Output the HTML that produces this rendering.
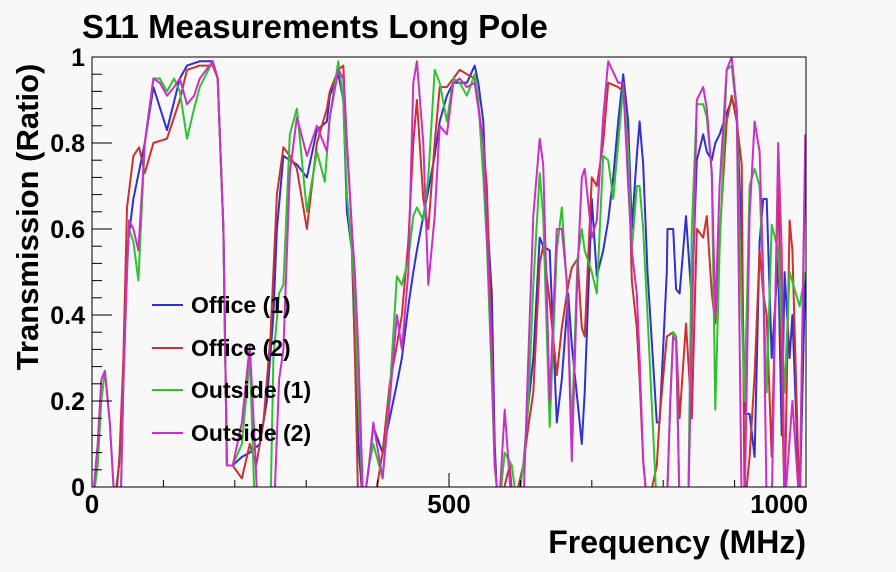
<!DOCTYPE html>
<html><head><meta charset="utf-8">
<style>
html,body{margin:0;padding:0;background:#f8f8f8;}
svg{display:block;font-family:"Liberation Sans",Arial,sans-serif;font-weight:bold;}
</style></head>
<body>
<svg id="chart" width="896" height="572" viewBox="0 0 896 572">
<rect x="0" y="0" width="896" height="572" fill="#f8f8f8"/>
<text x="82" y="38" font-size="33" fill="#000">S11 Measurements Long Pole</text>
<text x="806" y="553" font-size="32" text-anchor="end" fill="#000">Frequency (MHz)</text>
<text transform="translate(38,217) rotate(-90)" font-size="31" text-anchor="middle" fill="#000">Transmission (Ratio)</text>
<defs><clipPath id="plotclip"><rect x="92" y="57" width="714" height="430"/></clipPath></defs>
<g id="series" clip-path="url(#plotclip)"></g>
<g id="axes"></g>
<g id="legend"></g>
</svg>
<script>
const xTicks = [0, 500, 1000];
const xTickLabels = ["0", "500", "1000"];
const yTicks = [0, 0.2, 0.4, 0.6, 0.8, 1];
const yTickLabels = ["0", "0.2", "0.4", "0.6", "0.8", "1"];
const seriesNames = ["Office (1)", "Office (2)", "Outside (1)", "Outside (2)"];

const office1F = [0,25,35,40,44,49,58,74,86,105,123,133,151,169,176,184,189,197,210,221,235,245,254,259,268,277,287,301,315,329,333,345,352,357,364,368,373,380,388,394,407,417,427,434,443,450,455,464,471,480,487,497,506,515,525,536,541,548,553,560,564,568,590,604,611,618,627,632,641,651,658,667,672,680,686,690,700,707,716,723,730,737,744,751,756,763,767,772,778,791,795,805,806,814,818,823,832,840,847,856,861,868,873,879,889,896,903,910,914,921,928,935,940,945,952,961,966,970,977,981,991,999];
const office1V = [-0.05,-0.05,0,0.1,0.25,0.55,0.67,0.8,0.93,0.83,0.95,0.98,0.99,0.99,0.95,0.6,0.05,0.05,0.07,0.08,0.1,0.2,0.4,0.6,0.77,0.76,0.75,0.72,0.83,0.85,0.91,0.96,0.9,0.64,0.55,0.32,0.1,-0.05,0.05,0.14,0.08,0.16,0.24,0.3,0.42,0.5,0.55,0.63,0.69,0.77,0.85,0.91,0.94,0.94,0.94,0.98,0.94,0.85,0.64,0.45,0.1,-0.05,-0.05,0.05,0.19,0.3,0.58,0.56,0.55,0.15,0.25,0.45,0.33,0.2,0.1,0.22,0.67,0.49,0.55,0.62,0.72,0.85,0.96,0.85,0.6,0.77,0.85,0.75,0.5,0.15,0.15,0.5,0.6,0.6,0.46,0.45,0.63,0.43,0.76,0.82,0.78,0.76,0.8,0.82,0.87,0.9,0.88,0.57,0.17,0.17,0.07,0.57,0.67,0.67,0.3,0.53,0.12,0.5,0.3,0.4,-0.05,0.5];

const office2F = [0,30,38,44,49,58,66,74,86,105,123,133,151,169,176,184,189,197,210,221,230,240,250,259,268,277,287,301,315,329,333,345,352,357,364,368,373,394,407,417,427,434,443,450,455,464,471,480,487,497,506,515,525,536,548,553,560,564,570,585,590,604,611,618,627,632,641,651,658,667,672,680,686,690,700,707,716,723,737,744,751,756,763,767,772,778,791,795,805,814,818,823,832,840,847,856,861,868,873,879,889,896,903,910,914,921,928,935,940,945,952,961,966,970,977,981,991,999];
const office2V = [-0.05,-0.05,0.05,0.3,0.65,0.77,0.79,0.73,0.8,0.81,0.9,0.97,0.98,0.98,0.95,0.6,0.05,0.05,0.02,0.1,0.05,0.15,0.35,0.68,0.79,0.77,0.74,0.6,0.8,0.88,0.92,0.97,0.98,0.8,0.6,0.32,-0.05,-0.05,0.08,0.24,0.33,0.4,0.57,0.8,0.9,0.67,0.6,0.8,0.93,0.93,0.95,0.97,0.96,0.95,0.8,0.7,0.33,0.05,-0.05,0.05,-0.05,0.05,0.14,0.22,0.52,0.56,0.43,0.26,0.37,0.47,0.51,0.53,0.37,0.35,0.72,0.7,0.8,0.94,0.93,0.92,0.8,0.48,0.37,0.25,0.06,-0.05,0.05,0.16,0.35,0.36,0.35,0.16,0.38,0.16,0.6,0.58,0.63,0.45,0.38,0.58,0.85,0.91,0.85,0.75,-0.05,0.07,0.26,0.55,0.45,0.4,0.07,0.72,0.26,-0.05,0.62,0.55,-0.05,0.78];

const outside1F = [0,8,13,18,25,32,40,44,49,52,58,65,74,86,95,105,115,123,133,143,151,169,176,184,189,197,210,221,228,250,254,262,268,277,287,301,315,326,333,345,352,357,364,368,373,380,388,394,407,417,427,434,443,450,455,464,471,480,487,497,506,515,525,536,541,548,553,560,564,570,578,588,596,604,611,618,627,632,641,651,658,665,672,680,686,690,700,707,716,723,730,737,744,751,756,763,767,772,778,791,805,810,814,818,823,835,840,847,856,861,868,873,879,889,896,903,910,914,921,928,935,940,945,952,961,970,977,991,999];
const outside1V = [-0.05,0.05,0.2,0.27,0.15,-0.05,-0.05,0.24,0.5,0.6,0.57,0.48,0.8,0.95,0.95,0.92,0.95,0.92,0.81,0.88,0.93,0.99,0.95,0.6,0.05,0.05,0.1,0.3,-0.05,-0.05,0.3,0.45,0.47,0.82,0.88,0.64,0.78,0.71,0.86,0.99,0.9,0.68,0.55,0.45,0.2,-0.05,0.05,0.1,0.02,0.22,0.49,0.47,0.53,0.63,0.65,0.62,0.72,0.97,0.94,0.85,0.95,0.94,0.91,0.96,0.9,0.72,0.57,0.25,0.05,-0.05,0.08,0.05,-0.05,0.05,0.19,0.47,0.73,0.63,0.14,0.55,0.65,0.47,0.13,0.53,0.6,0.55,0.5,0.45,0.77,0.76,0.67,0.8,0.93,0.78,0.55,0.7,0.7,0.6,0.4,-0.05,-0.05,0.2,0.36,0.35,-0.05,-0.05,0.6,0.89,0.89,0.86,0.73,0.18,0.55,0.97,0.98,0.87,0.4,0.2,0.7,0.74,0.7,0.48,0.22,0.61,0.55,0.22,0.5,0.42,0.5];

const outside2F = [0,8,13,18,25,32,40,44,49,52,58,65,74,86,95,105,115,123,133,143,151,169,176,184,189,197,210,221,228,232,255,262,268,277,287,301,315,329,333,345,352,357,364,368,373,380,388,394,407,417,427,434,443,450,455,464,471,480,487,497,506,515,525,536,548,553,560,564,570,578,588,604,611,618,627,632,641,651,658,665,672,680,686,690,700,707,716,723,737,744,751,756,763,767,772,778,805,810,814,818,823,835,847,856,861,868,873,879,889,896,903,910,914,921,928,935,940,945,952,961,966,970,981,991,999];
const outside2V = [-0.05,0.1,0.25,0.27,0.15,-0.05,-0.05,0.24,0.5,0.62,0.6,0.55,0.8,0.95,0.94,0.91,0.93,0.95,0.89,0.91,0.95,0.99,0.95,0.6,0.05,0.05,0.15,0.33,0.1,-0.05,-0.05,0.25,0.32,0.73,0.86,0.77,0.84,0.78,0.86,0.97,0.95,0.8,0.6,0.5,0.32,-0.05,0.05,0.15,0.02,0.2,0.4,0.32,0.5,0.94,0.99,0.8,0.47,0.63,0.84,0.82,0.94,0.95,0.93,0.94,0.8,0.6,0.3,0.05,-0.05,0.18,-0.05,-0.05,0.3,0.63,0.81,0.75,0.2,0.6,0.6,0.48,0.06,0.5,0.72,0.74,0.58,0.62,0.86,0.99,0.94,0.94,0.7,0.55,0.45,0.3,0.06,-0.05,-0.05,0.2,0.35,0.34,-0.05,-0.05,0.9,0.93,0.88,0.73,0.4,0.7,0.97,1.0,0.88,-0.05,-0.05,0.63,0.85,0.78,0.5,-0.05,-0.05,0.8,0.55,-0.05,0.2,-0.05,0.82];

const NS = "http://www.w3.org/2000/svg";
const X0 = 92, X1 = 806, Y0 = 487, Y1 = 57;
function xScale(f){ return X0 + (f - 0) / 1000 * (X1 - X0); }
function yScale(v){ return Y0 - v * (Y0 - Y1); }
function mk(tag, attrs, parent){ const e = document.createElementNS(NS, tag); for (const k in attrs) e.setAttribute(k, attrs[k]); parent.appendChild(e); return e; }

const seriesGroup = document.getElementById('series');
const allSeries = [
  {f: office1F, v: office1V, c: "#3030cc"},
  {f: office2F, v: office2V, c: "#cc3030"},
  {f: outside1F, v: outside1V, c: "#30c030"},
  {f: outside2F, v: outside2V, c: "#c830c8"}
];
const seriesIds = ["office-1-line", "office-2-line", "outside-1-line", "outside-2-line"];
allSeries.forEach((s, i) => {
  const pts = s.f.map((f, j) => xScale(f).toFixed(1) + "," + yScale(s.v[j]).toFixed(1)).join(" ");
  const pl = mk('polyline', {points: pts, fill: "none", stroke: s.c, "stroke-width": 2, "stroke-linejoin": "round"}, seriesGroup);
  
  
});

const axes = document.getElementById('axes');
const frame = mk('rect', {x: X0, y: Y1, width: X1 - X0, height: Y0 - Y1, fill: "none", stroke: "#000", "stroke-width": 1}, axes);


for (let k = 0; k <= 25; k++) {
  const v = k * 0.04;
  const y = yScale(v);
  const major = (k % 5 === 0);
  const t = mk('line', {x1: X0, x2: X0 + (major ? 20 : 10), y1: y, y2: y, stroke: "#000", "stroke-width": 1}, axes);
  
  
}
yTicks.forEach((v, i) => {
  const t = mk('text', {x: X0 - 7, y: yScale(v) + 9, "font-size": 25, "text-anchor": "end", fill: "#000"}, axes);
  t.textContent = yTickLabels[i];
  
  
});
for (let f = 0; f <= 1000; f += 100) {
  const x = xScale(f);
  const major = (f % 500 === 0);
  const t = mk('line', {x1: x, x2: x, y1: Y0, y2: Y0 - (major ? 14 : 7), stroke: "#000", "stroke-width": 1}, axes);
  
  
}
xTicks.forEach((f, i) => {
  const last = (i === xTicks.length - 1);
  const t = mk('text', {x: last ? xScale(f) + 2 : xScale(f), y: 513, "font-size": 26, "text-anchor": last ? "end" : "middle", fill: "#000"}, axes);
  t.textContent = xTickLabels[i];
  
  
});

const legend = document.getElementById('legend');
const legendY = [305, 348, 390, 433];
seriesNames.forEach((n, i) => {
  const ln = mk('line', {x1: 152, x2: 183, y1: legendY[i], y2: legendY[i], stroke: allSeries[i].c, "stroke-width": 2}, legend);
  
  
  const t = mk('text', {x: 191, y: legendY[i] + 8, "font-size": 23, fill: "#000"}, legend);
  t.textContent = n;
  
  
});
</script>
</body></html>
